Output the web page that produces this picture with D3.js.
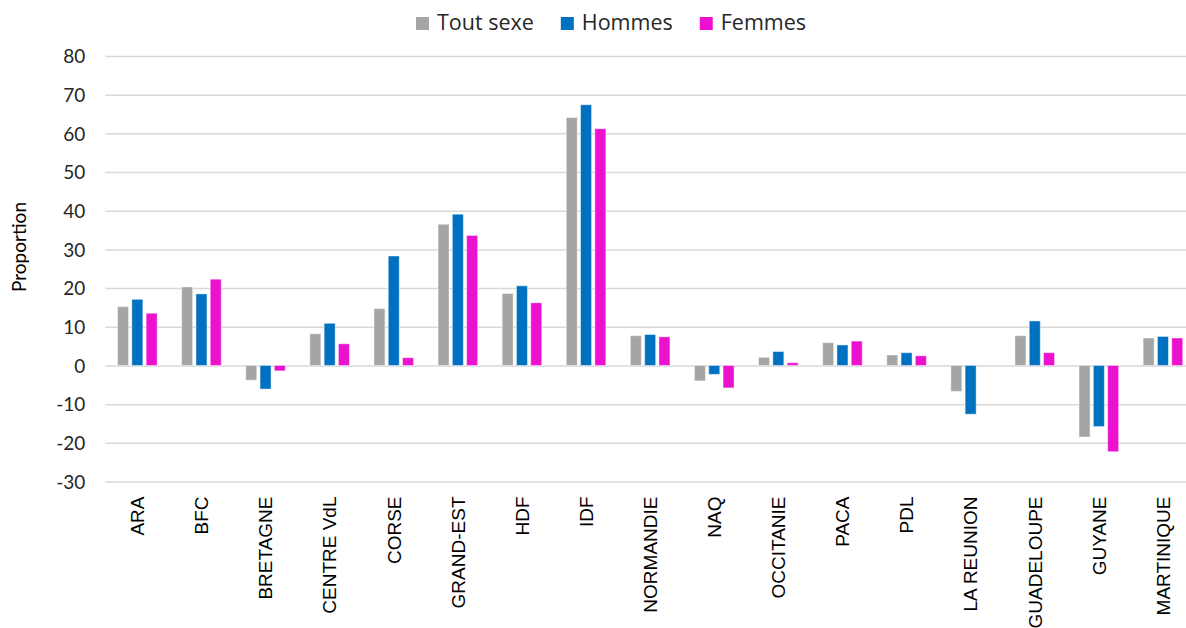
<!DOCTYPE html>
<html>
<head>
<meta charset="utf-8">
<script src="https://cdn.jsdelivr.net/npm/d3@7/dist/d3.min.js"></script>
<style>
  html, body { margin: 0; padding: 0; background: #ffffff; }
  svg { display: block; }
</style>
</head>
<body>
<svg id="chart" width="1186" height="628"></svg>
<script>
// Regions (x axis categories)
const regions = ["ARA", "BFC", "BRETAGNE", "CENTRE VdL", "CORSE", "GRAND-EST", "HDF", "IDF",
  "NORMANDIE", "NAQ", "OCCITANIE", "PACA", "PDL", "LA REUNION", "GUADELOUPE", "GUYANE", "MARTINIQUE"];

// Series names
const seriesNames = ["Tout sexe", "Hommes", "Femmes"];

// Series values (one per region)
const toutSexe = [15.2, 20.3, -3.8, 8.2, 14.7, 36.5, 18.6, 64.1, 7.7, -4.0, 2.1, 5.9, 2.7, -6.7, 7.7, -18.5, 7.1];
const hommes   = [17.1, 18.5, -6.1, 10.9, 28.3, 39.1, 20.6, 67.4, 8.0, -2.3, 3.6, 5.3, 3.3, -12.6, 11.5, -15.8, 7.5];
const femmes   = [13.5, 22.3, -1.4, 5.6, 2.0, 33.6, 16.2, 61.2, 7.4, -5.8, 0.7, 6.3, 2.5, 0.0, 3.3, -22.3, 7.1];

// Y axis ticks
const yTicks = [-30, -20, -10, 0, 10, 20, 30, 40, 50, 60, 70, 80];

const seriesValues = [toutSexe, hommes, femmes];
const colors = ["#a5a5a5", "#0070c0", "#ec10cf"];

const svg = d3.select("#chart");

// Plot area (extends slightly past the right edge of the canvas)
const plotLeft = 105.3, plotRight = 105.3 + 17 * 64.1;
const yTop = 56, yBottom = 481.5;

const x0 = d3.scaleBand().domain(regions).range([plotLeft, plotRight]).padding(0);
const groupWidth = 39.6;
const x1 = d3.scaleBand().domain(seriesNames).range([0, groupWidth]).paddingInner(0.23).paddingOuter(0);
const y = d3.scaleLinear().domain([-30, 80]).range([yBottom, yTop]);

// Horizontal gridlines and value labels
const yAxis = d3.axisLeft(y).tickValues(yTicks).tickSize(-(plotRight - plotLeft)).tickFormat(d => String(d));
const gY = svg.append("g").attr("transform", `translate(${plotLeft},0)`).call(yAxis);
gY.select(".domain").remove();
gY.selectAll(".tick line").attr("stroke", "#d9d9d9").attr("stroke-width", 1.5);
gY.selectAll(".tick text")
  .attr("x", -20)
  .attr("dy", "0.36em")
  .attr("fill", "#262626")
  .style("font-family", "Lato, 'Open Sans', sans-serif")
  .style("font-size", "19px");

// Bars
const data = [];
regions.forEach((r, i) => {
  seriesNames.forEach((s, j) => {
    data.push({ region: r, series: s, value: seriesValues[j][i], color: colors[j] });
  });
});

const offset = (x0.bandwidth() - groupWidth) / 2;
svg.append("g").selectAll("rect").data(data).join("rect")
  .attr("x", d => x0(d.region) + offset + x1(d.series))
  .attr("width", x1.bandwidth())
  .attr("y", d => y(Math.max(0, d.value)))
  .attr("height", d => Math.abs(y(d.value) - y(0)))
  .attr("fill", d => d.color)
  .attr("stroke", "#ffffff")
  .attr("stroke-opacity", 0.45)
  .attr("stroke-width", 1);

// Category labels (rotated)
const xAxis = d3.axisBottom(x0).tickSize(0);
const gX = svg.append("g").attr("transform", `translate(0,${yBottom})`).call(xAxis);
gX.select(".domain").remove();
gX.selectAll(".tick text")
  .attr("transform", "rotate(-90)")
  .attr("x", -15)
  .attr("y", 0)
  .attr("dy", "0.36em")
  .attr("text-anchor", "end")
  .attr("fill", "#000000")
  .style("font-family", "'Liberation Sans', Arial, sans-serif")
  .style("font-size", "19px");

// Y axis title
svg.append("text")
  .attr("transform", "translate(26,247) rotate(-90)")
  .attr("text-anchor", "middle")
  .attr("fill", "#000000")
  .style("font-family", "Lato, 'Open Sans', sans-serif")
  .style("font-size", "19px")
  .text("Proportion");

// Legend
const legend = svg.append("g");
let lx = 0;
const legendGap = 27;
seriesNames.forEach((s, j) => {
  const item = legend.append("g").attr("transform", `translate(${lx},0)`);
  item.append("rect").attr("x", 0).attr("y", 17).attr("width", 13).attr("height", 13).attr("fill", colors[j]);
  const t = item.append("text")
    .attr("x", 21).attr("y", 30)
    .attr("fill", "#262626")
    .style("font-family", "'Open Sans', Lato, sans-serif")
    .style("font-size", "21.5px")
    .text(s);
  lx += 21 + t.node().getComputedTextLength() + legendGap;
});
const legendWidth = lx - legendGap;
legend.attr("transform", `translate(${611 - legendWidth / 2},0)`);
</script>
</body>
</html>
